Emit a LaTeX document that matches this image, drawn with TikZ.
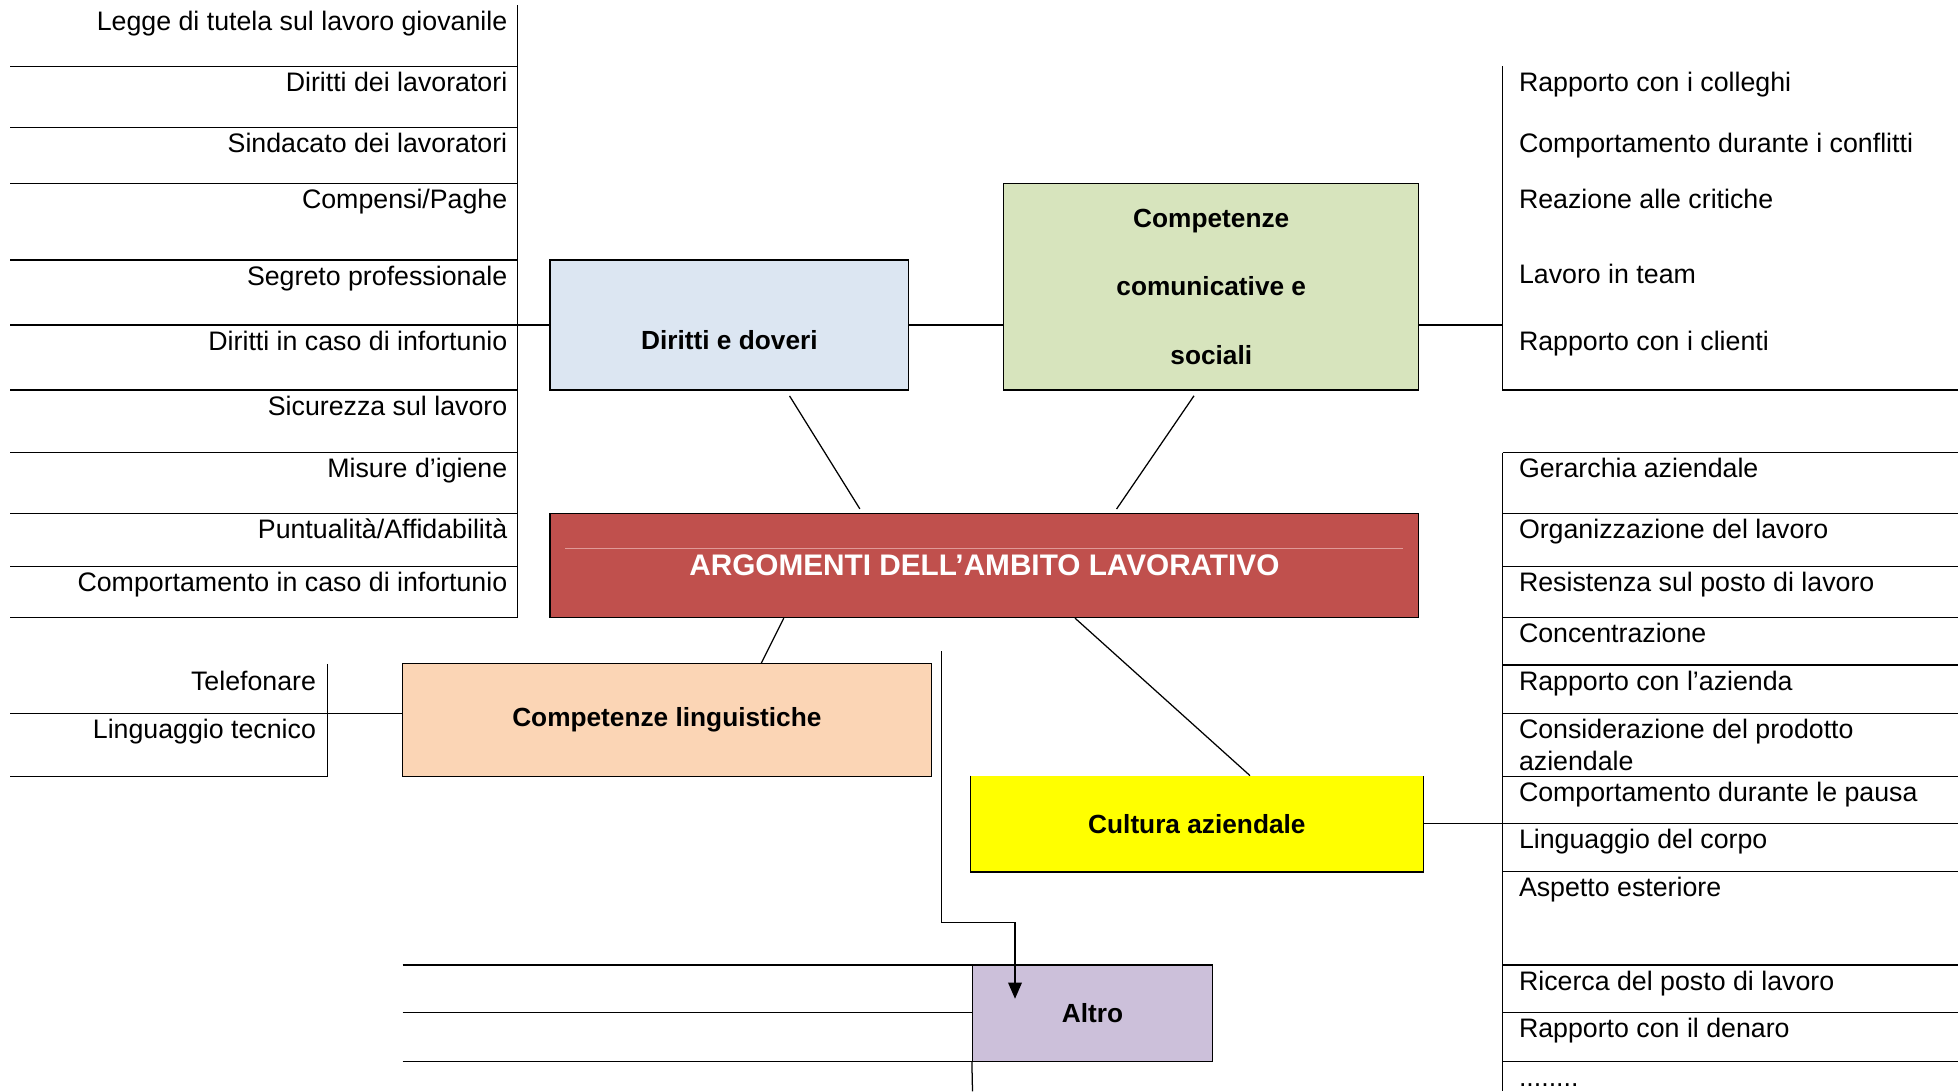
\documentclass[tikz,border=0pt]{standalone}
\usepackage{fontspec}
\setmainfont{Liberation Sans}
\usepackage{tikz}
\usetikzlibrary{arrows, arrows.meta, positioning}
\definecolor{dirblue}{HTML}{DCE6F2}
\definecolor{comgreen}{HTML}{D7E4BD}
\definecolor{argred}{HTML}{C0504D}
\definecolor{argline}{HTML}{E09A98}
\definecolor{lingorange}{HTML}{FBD5B5}
\definecolor{cultyellow}{HTML}{FFFF00}
\definecolor{altrolilac}{HTML}{CCC0DA}
\tikzstyle{topic}=[rectangle, draw=black, line width=1pt, inner sep=0pt, font=\bfseries\fontsize{21}{25}\selectfont]
\tikzstyle{item}=[inner sep=0pt, font=\fontsize{21.4}{25}\selectfont]
\tikzstyle{rule}=[line width=1pt]

\begin{document}
\begin{tikzpicture}[x=1pt, y=-1pt]
    \useasboundingbox (0,0) rectangle (1568,873);

    % Topics:
    \node[topic, fill=argred, text=white, minimum width=695pt, minimum height=83pt, font=\bfseries\fontsize{23.8}{27}\selectfont] (arg) at (787.5,452.5) {ARGOMENTI DELL’AMBITO LAVORATIVO};
    \node[topic, fill=dirblue, minimum width=287pt, minimum height=104pt, text height=39pt] (dir) at (583.5,260) {Diritti e doveri};
    \node[topic, fill=comgreen, minimum width=332pt, minimum height=165pt, align=center, font=\bfseries\fontsize{21}{55}\selectfont] (com) at (969,229.5) {Competenze\\comunicative e\\sociali};
    \node[topic, fill=lingorange, minimum width=423pt, minimum height=90pt] (ling) at (533.5,576) {Competenze linguistiche};
    \node[topic, draw=none, fill=cultyellow, minimum width=361pt, minimum height=76pt] (cult) at (957.5,659) {Cultura aziendale};
    \node[topic, fill=altrolilac, minimum width=192pt, minimum height=77pt] (altro) at (874,810.5) {Altro};
    \draw[rule] (cult.north west) -- (cult.south west) -- (cult.south east) -- (cult.north east);
    \draw[argline, line width=0.8pt] (452,439) -- (1122,439);

    % Diritti e doveri:
    \draw[rule] (414,4) -- (414,494);
    \foreach \y in {53,102,147,208,260,312,362,411,453,494}
        \draw[rule] (8,\y) -- (414,\y);
    \foreach \y/\t [count=\i] in {4/Legge di tutela sul lavoro giovanile, 53/Diritti dei lavoratori, 102/Sindacato dei lavoratori, 147/{Compensi/Paghe}, 208/Segreto professionale, 260/Diritti in caso di infortunio, 312/Sicurezza sul lavoro, 362/Misure d’igiene, 411/{Puntualità/Affidabilità}, 453/Comportamento in caso di infortunio}
        \node[item, anchor=base east] (d\i) at (406,\y+20) {\t};
    \coordinate (dspine) at (414,260);
    \draw[rule] (dspine) -- (dir);
    \draw[rule] (dir.east) -- (com.west |- dir.east);

    % Competenze comunicative:
    \draw[rule] (1202,53) -- (1202,312) -- (1566,312);
    \foreach \y/\t [count=\i] in {53/Rapporto con i colleghi, 102/Comportamento durante i conflitti, 147/Reazione alle critiche, 207/Lavoro in team, 260/Rapporto con i clienti}
        \node[item, anchor=base west] (c\i) at (1215,\y+20) {\t};
    \coordinate (cspine) at (1202,260);
    \draw[rule] (cspine) -- (com.east |- cspine);

    % Competenze linguistiche:
    \draw[rule] (262,531) -- (262,621);
    \foreach \y in {571,621}
        \draw[rule] (8,\y) -- (262,\y);
    \node[item, anchor=base east] (t1) at (253,552) {Telefonare};
    \node[item, anchor=base east] (t2) at (253,591) {Linguaggio tecnico};
    \coordinate (lspine) at (262,571);
    \draw[rule] (lspine) -- (ling.west |- lspine);

    % Cultura aziendale:
    \draw[rule] (1202,362) -- (1202,873);
    \foreach \y in {362,411,453,494,532,571,621,659,697,772,810,849}
        \draw[rule] (1202,\y) -- (1566,\y);
    \foreach \y/\t [count=\i] in {362/Gerarchia aziendale, 411/Organizzazione del lavoro, 453/Resistenza sul posto di lavoro, 494/Concentrazione, 532/Rapporto con l’azienda}
        \node[item, anchor=base west] (a\i) at (1215,\y+20) {\t};
    \node[item, anchor=base west, align=left] (a6) at (1215,616) {Considerazione del prodotto\\aziendale};
    \foreach \y/\t [count=\i from 7] in {621/Comportamento durante le pausa, 659/Linguaggio del corpo, 697/Aspetto esteriore, 772/Ricerca del posto di lavoro, 810/Rapporto con il denaro}
        \node[item, anchor=base west] (a\i) at (1215,\y+20) {\t};
    \node[item, anchor=base west] (a12) at (1215,869) {........};
    \coordinate (aspine) at (1202,659);
    \draw[rule] (cult) -- (aspine);

    % Altro:
    \foreach \y in {772,810,849}
        \draw[rule] (322,\y) -- (778,\y);
    \draw[rule] (altro.south west) -- (778,873);
    \coordinate (atail) at (753,521);
    \coordinate (abend) at (753,738);
    \coordinate (ahead) at (812,799);
    \draw[rule, -{Triangle[length=13pt, width=11pt]}] (atail) -- (abend) -| (ahead);

    % Links to the centre:
    \draw[rule, shorten <=5pt, shorten >=4pt] (629,0 |- dir.south) -- (690,0 |- arg.north);
    \draw[rule, shorten <=5pt, shorten >=4pt] (958,0 |- com.south) -- (891,0 |- arg.north);
    \draw[rule] (627,0 |- arg.south) -- (609,0 |- ling.north);
    \draw[rule] (860,0 |- arg.south) -- (1000,0 |- cult.north);
\end{tikzpicture}
\end{document}
